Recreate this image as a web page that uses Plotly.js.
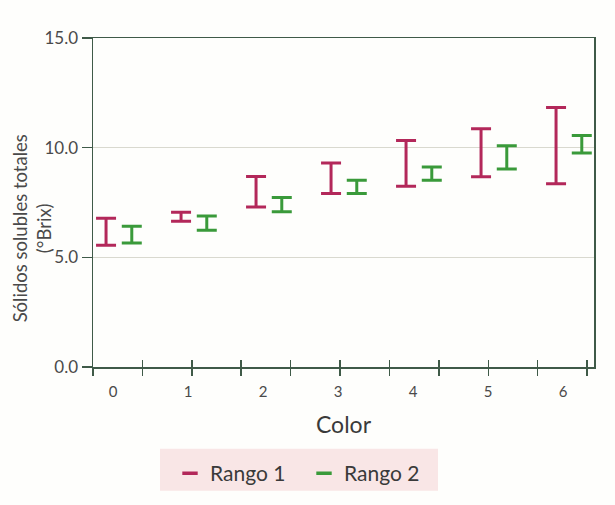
<!DOCTYPE html>
<html>
<head>
<meta charset="utf-8">
<script src="https://cdn.plot.ly/plotly-3.0.1.min.js"></script>
<style>html,body{margin:0;padding:0;background:#fff;}#chart{width:615px;height:505px;}</style>
</head>
<body>
<div id="chart"></div>
<script>
// Data
var categories = ['0', '1', '2', '3', '4', '5', '6'];
var rango1Low  = [5.55, 6.64, 7.29, 7.91, 8.24, 8.67, 8.35];
var rango1High = [6.78, 7.06, 8.68, 9.30, 10.33, 10.86, 11.83];
var rango2Low  = [5.65, 6.24, 7.08, 7.91, 8.51, 9.03, 9.76];
var rango2High = [6.42, 6.88, 7.73, 8.51, 9.12, 10.09, 10.55];
var seriesNames = ['Rango 1', 'Rango 2'];

var red = '#b3285a', green = '#3a9a3a', axisCol = '#3f5a48', textCol = '#4a4a4a';
var FONT = 'Lato, "Open Sans", sans-serif';

function pos(off) { return categories.map(function (c, i) { return i + off; }); }
function diff(h, l) { return h.map(function (v, i) { return v - l[i]; }); }

function rangeTrace(lo, hi, off, color) {
  return {
    type: 'scatter', mode: 'markers', x: pos(off), y: lo,
    marker: {size: 1, opacity: 0, color: color},
    error_y: {type: 'data', symmetric: false, array: diff(hi, lo),
      arrayminus: lo.map(function () { return 0; }),
      color: color, thickness: 3, width: 10},
    showlegend: false, hoverinfo: 'skip', cliponaxis: false
  };
}
function legendTrace(name, color) {
  return {type: 'scatter', mode: 'markers', x: [null], y: [null], name: name,
    marker: {symbol: 'line-ew', size: 11, color: color, line: {color: color, width: 3.5}}};
}

var traces = [
  rangeTrace(rango1Low, rango1High, -0.093, red),
  rangeTrace(rango2Low, rango2High, 0.25, green),
  legendTrace(seriesNames[0], red),
  legendTrace(seriesNames[1], green),
  {type: 'scatter', x: [0], y: [0], xaxis: 'x2', yaxis: 'y', mode: 'markers', marker: {opacity: 0}, showlegend: false, hoverinfo: 'skip'},
  {type: 'scatter', x: [0], y: [0], xaxis: 'x3', yaxis: 'y', mode: 'markers', marker: {opacity: 0}, showlegend: false, hoverinfo: 'skip'}
];

var layout = {
  width: 615, height: 505,
  margin: {l: 93, r: 21, t: 38, b: 137},
  paper_bgcolor: '#fefefc', plot_bgcolor: '#fefefc',
  font: {family: FONT, color: textCol},
  showlegend: true,
  xaxis: {
    range: [-0.267, 6.413], tickvals: pos(0), ticktext: categories,
    ticks: 'outside', ticklen: 10, tickcolor: 'rgba(0,0,0,0)', showgrid: false, zeroline: false,
    showline: true, linecolor: axisCol, linewidth: 1.5, mirror: true,
    tickfont: {size: 15, color: textCol},
    title: {text: 'Color', font: {size: 23, color: '#3a3a3a'}, standoff: 18}
  },
  xaxis2: {overlaying: 'x', range: [0, 10.14], tick0: 0, dtick: 1, ticks: 'outside', ticklen: 8,
    tickcolor: axisCol, tickwidth: 1.5, showticklabels: false, showgrid: false, zeroline: false, showline: false},
  xaxis3: {overlaying: 'x', range: [0, 10.14], tick0: 0, dtick: 1, ticks: 'inside', ticklen: 7,
    tickcolor: axisCol, tickwidth: 1.5, showticklabels: false, showgrid: false, zeroline: false, showline: false},
  yaxis: {
    range: [0, 15], tickvals: [0, 5, 10, 15], ticktext: ['0.0', '5.0', '10.0', '15.0'],
    ticks: 'outside', ticklen: 10, tickcolor: axisCol, tickwidth: 1.5,
    showgrid: true, gridcolor: '#d9d9cf', gridwidth: 1.2, zeroline: false,
    showline: true, linecolor: axisCol, linewidth: 1.5, mirror: true,
    tickfont: {size: 17, color: textCol}
  },
  legend: {
    orientation: 'h', x: 0.1537, xanchor: 'left', y: -0.258, yanchor: 'top',
    bgcolor: 'rgba(0,0,0,0)', borderwidth: 0, entrywidth: 89, entrywidthmode: 'pixels',
    font: {size: 21, color: '#3a3a3a', family: FONT}
  },
  shapes: [{
    type: 'rect', xref: 'paper', yref: 'paper', layer: 'below',
    x0: 0.1337, x1: 0.6886, y0: -0.3758, y1: -0.2485,
    fillcolor: '#f9e6e6', line: {width: 0}
  }],
  annotations: [{
    text: 'Sólidos solubles totales<br>(°Brix)', textangle: -90,
    xref: 'paper', yref: 'paper', x: -0.12, y: 0.421, xanchor: 'center', yanchor: 'middle',
    showarrow: false, font: {size: 18.5, color: textCol}
  }]
};

Plotly.newPlot('chart', traces, layout, {displayModeBar: false, staticPlot: true});
</script>
</body>
</html>
